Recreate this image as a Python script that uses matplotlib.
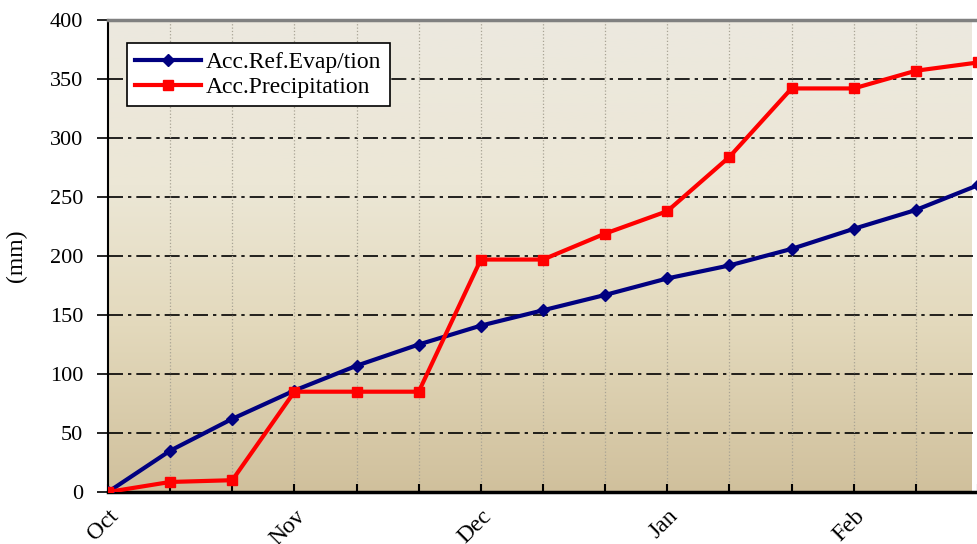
import matplotlib.pyplot as plt
import numpy as np
from matplotlib.colors import LinearSegmentedColormap

# Dekadal accumulated values (mm), Oct 1st onward
DEKADS = list(range(15))
EVAP_ACC = [0, 35, 62, 86, 107, 125, 141, 154, 167, 181, 192, 206, 223, 239, 260]
PRECIP_ACC = [0, 8.5, 10, 85, 85, 85, 197, 197, 219, 238, 284, 342, 342, 357, 364]

MONTH_TICKS = [0, 3, 6, 9, 12]
MONTH_LABELS = ["Oct", "Nov", "Dec", "Jan", "Feb"]
Y_TICKS = [0, 50, 100, 150, 200, 250, 300, 350, 400]

plt.rcParams["font.family"] = ["Liberation Serif", "DejaVu Serif"]

fig = plt.figure(figsize=(9.78, 5.44), dpi=100)
ax = fig.add_axes([108 / 978, 52 / 544, 870 / 978, 472 / 544])

x_max = 13.9
y_max = 400

# background gradient: pale grey-beige at the top, tan at the bottom
cmap = LinearSegmentedColormap.from_list(
    "bg", [(0.0, "#d0c09c"), (0.35, "#e3d9bc"), (0.65, "#ece7d6"), (1.0, "#ece9df")]
)
grad = np.linspace(0, 1, 256).reshape(-1, 1)
ax.imshow(grad, cmap=cmap, aspect="auto", origin="lower",
          extent=[0, x_max, 0, y_max], zorder=0)

for y in Y_TICKS[1:-1]:
    ax.axhline(y, color="black", linestyle=(0, (9, 3, 2, 3)), linewidth=1.2, zorder=1)
for x in DEKADS[1:]:
    ax.axvline(x, color="#a8a394", linestyle=":", linewidth=0.9, zorder=1)

ax.plot(DEKADS, EVAP_ACC, color="#000080", linewidth=3, marker="D",
        markersize=6.5, label="Acc.Ref.Evap/tion", zorder=3)
ax.plot(DEKADS, PRECIP_ACC, color="#ff0000", linewidth=3, marker="s",
        markersize=7, label="Acc.Precipitation", zorder=3)

ax.set_xlim(0, x_max)
ax.set_ylim(0, y_max)

ax.set_yticks(Y_TICKS)
ax.tick_params(axis="y", direction="out", length=8, width=1.2, labelsize=16, pad=10)
ax.set_xticks(DEKADS)
ax.set_xticklabels(["" if i not in MONTH_TICKS else MONTH_LABELS[MONTH_TICKS.index(i)]
                    for i in DEKADS], rotation=45, ha="right", rotation_mode="anchor")
ax.tick_params(axis="x", direction="in", length=6, width=1.5, labelsize=17, pad=10)

ax.set_ylabel("(mm)", fontsize=17, labelpad=16)

ax.spines["left"].set_linewidth(1.5)
ax.spines["bottom"].set_linewidth(2.5)
ax.spines["top"].set_color("#808080")
ax.spines["top"].set_linewidth(2.5)
ax.spines["right"].set_visible(False)

leg = ax.legend(loc="upper left", bbox_to_anchor=(0.0218, 0.951), borderaxespad=0,
                fontsize=17, frameon=True, fancybox=False, framealpha=1,
                edgecolor="black", handlelength=2.8, borderpad=0.35,
                labelspacing=0.15, handletextpad=0.2)
leg.get_frame().set_linewidth(1.2)

fig.savefig("out.png", dpi=100)
